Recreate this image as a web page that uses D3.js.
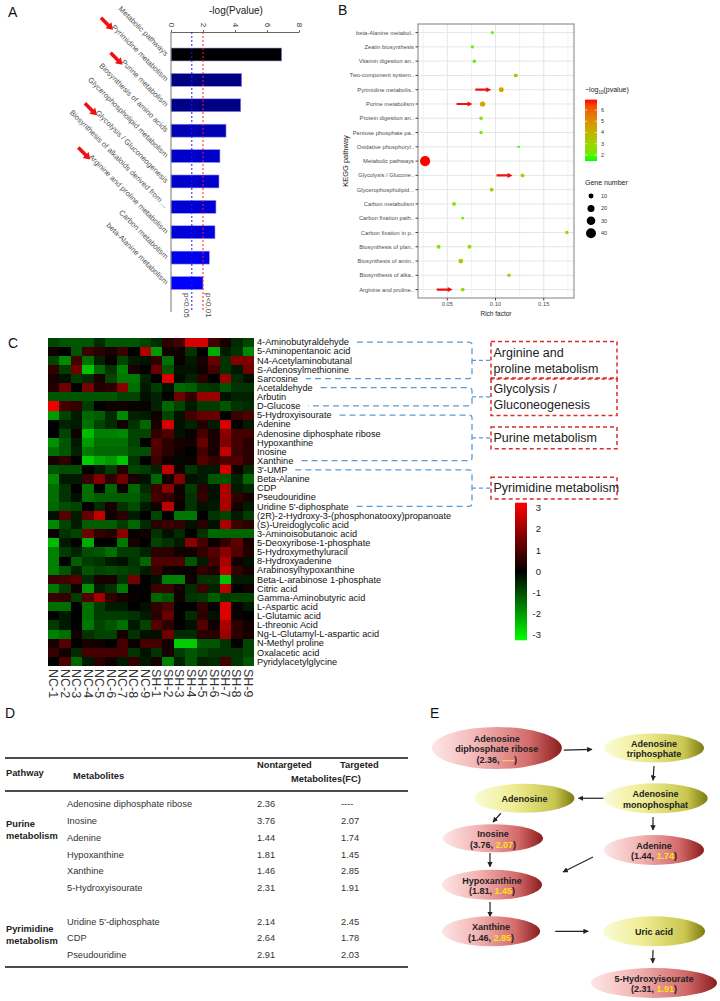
<!DOCTYPE html>
<html>
<head>
<meta charset="utf-8">
<script src="https://cdn.jsdelivr.net/npm/d3@7"></script>
<style>
  body { margin: 0; background: #fff; }
  svg { display: block; font-family: "Liberation Sans", Arial, sans-serif; }
</style>
</head>
<body>
<svg id="fig" width="720" height="1001"></svg>
<script>
// ---------- data : panel A ----------
const aPathways = ["Metabolic pathways", "Pyrimidine metabolism", "Purine metabolism",
  "Biosynthesis of amino acids", "Glycerophospholipid metabolism", "Glycolysis / Gluconeogenesis",
  "Biosynthesis of alkaloids derived from ...", "Arginine and proline metabolism",
  "Carbon metabolism", "beta-Alanine metabolism"];
const aLogP = [6.92, 4.42, 4.36, 3.44, 3.06, 3.0, 2.81, 2.75, 2.4, 2.0];
const aMarked = ["Pyrimidine metabolism", "Purine metabolism", "Glycolysis / Gluconeogenesis", "Arginine and proline metabolism"];
const aTicks = [0, 2, 4, 6, 8];
const aCutLabels = ["p<0.05", "p<0.01"];
const aCutValues = [1.301, 2];

// ---------- data : panel B ----------
const bPathways = ["beta-Alanine metabol..", "Zeatin biosynthesis", "Vitamin digestion an..",
  "Two-component system..", "Pyrimidine metabolis..", "Purine metabolism", "Protein digestion an..",
  "Pentose phosphate pa..", "Oxidative phosphoryl..", "Metabolic pathways", "Glycolysis / Glucone..",
  "Glycerophospholipid ..", "Carbon metabolism", "Carbon fixation path..", "Carbon fixation in p..",
  "Biosynthesis of plan..", "Biosynthesis of amin..", "Biosynthesis of alka..", "Arginine and proline.."];
const bPointPath = ["beta-Alanine metabol..", "Zeatin biosynthesis", "Vitamin digestion an..",
  "Two-component system..", "Pyrimidine metabolis..", "Purine metabolism", "Protein digestion an..",
  "Pentose phosphate pa..", "Oxidative phosphoryl..", "Metabolic pathways", "Glycolysis / Glucone..",
  "Glycerophospholipid ..", "Carbon metabolism", "Carbon fixation path..", "Carbon fixation in p..",
  "Biosynthesis of plan..", "Biosynthesis of plan..", "Biosynthesis of amin..", "Biosynthesis of alka..",
  "Arginine and proline.."];
const bRich  = [0.0967, 0.076, 0.078, 0.121, 0.106, 0.0866, 0.085, 0.085, 0.124, 0.027, 0.128,
  0.096, 0.057, 0.066, 0.174, 0.041, 0.073, 0.064, 0.114, 0.066];
const bLogP  = [2.0, 1.9, 1.95, 3.5, 4.42, 4.36, 2.4, 2.3, 1.46, 6.92, 3.0,
  3.06, 2.4, 2.0, 2.9, 2.2, 2.6, 3.44, 2.81, 2.75];
const bGenes = [4, 4, 5, 6, 10, 11, 5, 5, 2, 42, 6, 6, 6, 3, 5, 6, 6, 9, 5, 6];
const bMarked = ["Pyrimidine metabolis..", "Purine metabolism", "Glycolysis / Glucone..", "Arginine and proline.."];
const bTicks = [0.05, 0.10, 0.15];
const bColorTicks = [2, 3, 4, 5, 6];
const bSizeTicks = [10, 20, 30, 40];

// ---------- data : panel C ----------
const cSamples = ["NC-1","NC-2","NC-3","NC-4","NC-5","NC-6","NC-7","NC-8","NC-9",
  "SH-1","SH-2","SH-3","SH-4","SH-5","SH-6","SH-7","SH-8","SH-9"];
const cMetabolites = ["4-Aminobutyraldehyde", "5-Aminopentanoic acid", "N4-Acetylaminobutanal",
  "S-Adenosylmethionine", "Sarcosine", "Acetaldehyde", "Arbutin", "D-Glucose", "5-Hydroxyisourate",
  "Adenine", "Adenosine diphosphate ribose", "Hypoxanthine", "Inosine", "Xanthine", "3'-UMP",
  "Beta-Alanine", "CDP", "Pseudouridine", "Uridine 5'-diphosphate",
  "(2R)-2-Hydroxy-3-(phosphonatooxy)propanoate", "(S)-Ureidoglycolic acid", "3-Aminoisobutanoic acid",
  "5-Deoxyribose-1-phosphate", "5-Hydroxymethyluracil", "8-Hydroxyadenine", "Arabinosylhypoxanthine",
  "Beta-L-arabinose 1-phosphate", "Citric acid", "Gamma-Aminobutyric acid", "L-Aspartic acid",
  "L-Glutamic acid", "L-threonic Acid", "Ng-L-Glutamyl-L-aspartic acid", "N-Methyl proline",
  "Oxalacetic acid", "Pyridylacetylglycine"];
const cValues = [
  [-0.8,-1,-1,-1,-0.5,-1,-1,-1,-0.8,-0.5,0.5,0.8,2.5,2.5,0.8,0.3,-0.5,-0.8],
  [0.2,0,-1,0.7,0.5,0.3,0.7,0,2,-1.8,0.2,0.2,-0.6,0,-2,-0.3,-0.6,-1.6],
  [-0.8,-1.6,0.8,-1.3,-0.4,0.1,-0.8,-0.3,-0.2,0.6,-1.3,0.1,-0.3,0.3,1.2,-0.6,1.5,1.5],
  [0.6,-0.7,1.3,-2.3,-1.2,-0.6,-1.5,0.3,0,1.2,-1.0,-0.2,-0.2,0.2,0.8,-0.6,-0.3,1.3],
  [0.3,-0.2,-0.7,-0.5,0.3,-0.8,-1.4,-1.4,-0.4,0,2.6,-0.1,-0.4,0.5,0,1.8,-0.5,-0.2],
  [0.4,1.3,0,1.4,0.4,0.5,1.6,-1.3,-0.3,-0.7,-0.2,-1.2,-1.1,-0.7,-0.6,-1.0,-0.6,-0.6],
  [-1,-1,-1,-1,-1,-1,-0.8,-0.8,-0.2,-0.4,0,1.3,0.6,1.8,1.8,-0.2,-0.4,-0.4],
  [2.8,0.8,0.6,-0.7,0,0.2,0.2,0.1,0.1,-0.4,-1.2,-0.8,-0.3,-0.7,-0.7,-1.0,-0.6,-0.5],
  [-1.8,-0.8,-0.3,-1.2,-1.1,-0.5,-1.6,-0.4,-0.3,0.2,-0.8,-0.2,0.8,1.2,1.2,0,0.7,0.9],
  [0,-0.4,-0.3,-1.3,-0.8,-0.5,0.2,-0.6,-1.2,0.3,2.5,-0.2,-0.4,0.4,-0.3,2.5,0,-0.3],
  [0,-0.8,0.2,-2.2,-1.5,-1.5,-1.6,-0.8,-0.8,0.6,0.9,-0.2,0.1,0.8,0.3,1.6,0.8,0.8],
  [-1.7,-1.0,-0.3,-1.8,-1.3,-1.3,-1.3,-0.8,0,1.0,0.5,0.3,0.2,1.2,0.3,1.5,0.8,0.5],
  [-1.3,-1.0,-0.4,-1.4,-1.2,-1.2,-1.2,-0.9,-0.9,0.9,0.5,0.2,0,0.8,0.3,2.3,0.7,0.5],
  [0.3,0.6,0,-2.4,-2.0,-1.8,-2.3,-0.6,0,0.7,0.2,-0.1,0.1,1.0,0.6,0.9,0.9,0.5],
  [-1.0,-0.9,-0.9,0,-0.3,-0.7,0.4,-0.8,-0.7,-0.4,2.3,0.2,-0.6,-0.3,-0.3,2.5,0.2,-0.5],
  [-1.6,-0.3,-0.3,0.7,1.5,0.5,1.3,0.3,-0.2,-1.2,0.2,1.5,-0.2,-0.3,-1.0,-1.0,-0.4,-1.2],
  [-1.3,-0.6,0,-1.3,0,-1.2,0.1,-1.2,-0.5,0.7,1.6,0.2,-0.7,0.5,-0.2,2.0,-0.3,-0.5],
  [-1.3,-0.6,-0.2,-1.3,-1.1,-1.1,-1.1,-1.1,-0.7,0.8,0.6,0.2,-0.6,0.6,-0.2,2.0,0.6,0.3],
  [-1.2,-0.9,-0.8,0,-0.5,0.3,-0.6,-0.9,-0.3,0.2,2.2,0.1,-0.6,-0.2,-0.3,2.0,0.3,-0.3],
  [-0.2,1.0,-0.3,1.2,2.3,0.2,0.5,-0.3,0,-0.8,0,-1.4,-1.4,0,-0.6,-0.8,-0.3,-0.7],
  [-1.6,-0.8,-0.3,-1.1,-1.1,-1.1,-0.7,-1.2,-0.5,0.5,0.7,0.6,-0.2,0.5,-0.2,2.0,0.7,0.5],
  [0.1,-0.6,-0.8,1.3,0.6,0.4,1.6,0.1,0.2,-0.6,-0.2,-0.5,0,-0.6,-1.2,-1.2,-1.2,-1.2],
  [-2.2,-0.3,0,-2.0,0,0,-1.4,0.3,0,-0.8,-0.6,-0.3,1.6,0.8,0.1,0.6,1.1,0.3],
  [-1.5,-0.7,-0.4,-0.9,-1.0,-1.3,-0.7,-0.7,-0.4,0.5,0.5,0.2,0.2,0.6,1.0,1.6,1.0,0.4],
  [-1.5,0,-1.1,-0.7,-0.6,-0.3,-0.2,-0.6,-1.2,0.9,0.9,0.9,-1.0,-0.3,0.8,2.0,0.2,-0.2],
  [-1.5,-1.0,-0.4,-1.0,-0.8,-0.9,-0.8,-0.7,-0.3,0.7,0.2,0.1,0.1,0.6,0.4,2.3,0.6,0.3],
  [0.7,0.8,1.0,-0.5,0.3,0.3,-0.6,1.3,0,-0.2,-1.5,-1.5,0.2,-0.6,-0.6,-2.3,-0.3,-0.3],
  [-1.4,-0.7,0.2,-1.7,-0.3,-0.6,-1.4,0,0,0.7,0.7,0.2,-0.5,0.7,-0.4,2.2,0,0.2],
  [0.7,0.6,-0.7,1.0,1.9,0.6,0.3,0.1,0,-1.2,-1.0,0.2,-0.6,-0.7,-1.1,-0.7,-0.8,-0.8],
  [-1.3,-1.3,0,-1.3,-0.7,-0.3,-0.3,0,-0.2,0.6,0.9,0,0,0.6,0.1,2.6,0.1,-0.3],
  [0,-0.3,0,-1.3,-0.7,-0.7,-0.7,-0.6,-0.3,0.5,1.2,0,-0.5,0.5,-0.2,2.6,0.1,0],
  [-0.7,-0.3,0,-1.4,-0.8,-1.0,-1.3,-0.3,-0.8,1.0,0.5,0,-0.2,1.0,0.2,2.0,0.5,0.2],
  [-1.5,-1.3,0.2,-0.6,-0.8,-0.8,0.3,-0.6,-0.2,-0.2,1.3,-0.5,-0.5,0.5,0.5,1.8,0.5,0.3],
  [0.3,1.0,0,0.3,0.2,0,0.8,0.1,0.8,0.8,0.2,-2.4,-2.4,-1.0,-1.0,-0.6,0,-0.8],
  [0.6,0.2,-0.5,0.8,0.8,0.8,0.8,-0.6,-0.2,-0.6,0.3,-0.7,-1.0,-0.8,-0.6,-0.6,-0.6,-0.8],
  [0,0.9,-1.2,-0.3,0.5,0.2,-0.3,0.6,-0.3,0.3,-1.5,-0.4,-1.0,-0.4,-0.5,0.8,-0.6,-1.0]
];
const cScaleTicks = [3, 2, 1, 0, -1, -2, -3];
const cGroupNames = [["Arginine and", "proline metabolism"], ["Glycolysis /", "Gluconeogenesis"],
  ["Purine metabolism"], ["Pyrimidine metabolism"]];
const cGroupFirst = ["4-Aminobutyraldehyde", "Acetaldehyde", "5-Hydroxyisourate", "3'-UMP"];
const cGroupLast = ["Sarcosine", "D-Glucose", "Xanthine", "Uridine 5'-diphosphate"];

// ---------- data : panel D ----------
const tPathway = ["Purine metabolism", "Purine metabolism", "Purine metabolism", "Purine metabolism",
  "Purine metabolism", "Purine metabolism", "Pyrimidine metabolism", "Pyrimidine metabolism", "Pyrimidine metabolism"];
const tMetabolites = ["Adenosine diphosphate ribose", "Inosine", "Adenine", "Hypoxanthine", "Xanthine",
  "5-Hydroxyisourate", "Uridine 5'-diphosphate", "CDP", "Pseudouridine"];
const tNontargeted = ["2.36", "3.76", "1.44", "1.81", "1.46", "2.31", "2.14", "2.64", "2.91"];
const tTargeted = ["----", "2.07", "1.74", "1.45", "2.85", "1.91", "2.45", "1.78", "2.03"];

// ---------- data : panel E ----------
const eNodes = ["Adenosine diphosphate ribose", "Adenosine triphosphate", "Adenosine monophosphat", "Adenosine",
  "Inosine", "Adenine", "Hypoxanthine", "Xanthine", "Uric acid", "5-Hydroxyisourate"];
const eLabelLines = [["Adenosine", "diphosphate ribose"], ["Adenosine", "triphosphate"], ["Adenosine", "monophosphat"],
  ["Adenosine"], ["Inosine"], ["Adenine"], ["Hypoxanthine"], ["Xanthine"], ["Uric acid"], ["5-Hydroxyisourate"]];
const eEdges = [[0, 1], [1, 2], [2, 3], [2, 5], [3, 4], [4, 6], [5, 6], [6, 7], [7, 8], [8, 9]];

// ---------- layout (positions only) ----------
const eCol = [0.03, 1, 1.01, 0.2, 0.006, 1, 0, -0.006, 1, 1];
const eRow = [0, 0, 1.07, 1.07, 1.92, 2.17, 2.91, 3.9, 3.9, 5];
const eRx = [65, 50, 52, 50, 50, 50, 50, 49, 51, 63];
const eRy = [21, 14.5, 15, 14.5, 14, 15, 15, 15, 15, 15];
const eAnchors = [
  [[1.03, 0.1], [-1.24, 0.1]], [[0, 1.24], [-0.05, -1.2]], [[-1.0, 0], [1.08, 0]],
  [[-0.05, 1.25], [-0.02, -1.33]], [[-0.47, 1.03], [0, -1.16]], [[-0.06, 1.05], [-0.04, -1.2]],
  [[-1.22, 0.47], [1.42, -0.85]], [[-0.04, 1.15], [-0.02, -0.98]], [[1.31, 0], [-1.29, 0]],
  [[-0.02, 1.25], [-0.02, -1.33]]];

const svg = d3.select("#fig");
svg.append("rect").attr("width", 720).attr("height", 1001).attr("fill", "#fff");
const defs = svg.append("defs");

function blockArrow(g, x1, y1, x2, y2, shaft, headW, headL, color) {
  const len = Math.hypot(x2 - x1, y2 - y1);
  const ux = (x2 - x1) / len, uy = (y2 - y1) / len, nx = -uy, ny = ux;
  const bx = x2 - ux * headL, by = y2 - uy * headL;
  const pts = [
    [x1 + nx * shaft / 2, y1 + ny * shaft / 2], [bx + nx * shaft / 2, by + ny * shaft / 2],
    [bx + nx * headW / 2, by + ny * headW / 2], [x2, y2],
    [bx - nx * headW / 2, by - ny * headW / 2], [bx - nx * shaft / 2, by - ny * shaft / 2],
    [x1 - nx * shaft / 2, y1 - ny * shaft / 2]];
  g.append("path").attr("d", d3.line()(pts) + "Z").attr("fill", color);
}

// panel letters
const letters = [["A", 8, 12], ["B", 338, 10], ["C", 8, 343], ["D", 5, 713], ["E", 430, 713]];
svg.selectAll("text.letter").data(letters).join("text").attr("class", "letter")
  .attr("x", d => d[1]).attr("y", d => d[2]).attr("dy", "0.35em")
  .attr("font-size", 14).attr("fill", "#111").text(d => d[0]);

// =============== Panel A ===============
const gA = svg.append("g");
const aX = d3.scaleLinear().domain([0, 8]).range([171, 299]);
const aY = d3.scaleBand().domain(aPathways).range([41.8, 295.7]).paddingInner(0.49).paddingOuter(0.245);
const aColor = d3.scaleLinear().domain([d3.min(aLogP), d3.max(aLogP)]).range(["#0000ff", "#000000"]);

gA.append("text").attr("x", 236).attr("y", 10).attr("dy", "0.35em").attr("text-anchor", "middle")
  .attr("font-size", 10).attr("fill", "#222").text("-log(Pvalue)");

gA.append("g").attr("transform", "translate(0,32)")
  .call(d3.axisTop(aX).tickValues(aTicks).tickFormat(d3.format("d")).tickSize(2).tickSizeOuter(0))
  .call(g => g.select(".domain").attr("stroke", "#666"))
  .call(g => g.selectAll(".tick line").attr("stroke", "#666"))
  .call(g => g.selectAll(".tick text").attr("x", 0).attr("y", 0).attr("dy", "0.35em")
    .attr("text-anchor", "middle").attr("transform", "translate(0,-7) rotate(90)")
    .attr("font-size", 8).attr("fill", "#333").attr("font-family", "Liberation Sans, Arial, sans-serif"));

gA.selectAll("rect.bar").data(aPathways).join("rect").attr("class", "bar")
  .attr("x", aX(0)).attr("y", d => aY(d))
  .attr("width", (d, i) => aX(aLogP[i]) - aX(0)).attr("height", aY.bandwidth())
  .attr("fill", (d, i) => aColor(aLogP[i]))
  .attr("stroke", "#9a9af0").attr("stroke-width", 0.6);

gA.append("line").attr("x1", aX(0)).attr("x2", aX(0)).attr("y1", 32).attr("y2", 312).attr("stroke", "#777");

const aCutColors = ["#1a1aff", "#ff2020"];
aCutValues.forEach((v, i) => {
  gA.append("line").attr("x1", aX(v)).attr("x2", aX(v)).attr("y1", 32).attr("y2", 312)
    .attr("stroke", aCutColors[i]).attr("stroke-width", 1).attr("stroke-dasharray", "2,2");
  gA.append("text").attr("x", 0).attr("y", 0).attr("dy", "0.35em")
    .attr("transform", `translate(${aX(v) + (i === 0 ? -5 : 6)},293) rotate(90)`)
    .attr("font-size", 8).attr("fill", "#444").text(aCutLabels[i]);
});

const c45 = Math.SQRT1_2;
gA.selectAll("text.alab").data(aPathways).join("text").attr("class", "alab")
  .attr("x", 0).attr("y", 0).attr("dy", "0.35em").attr("text-anchor", "end")
  .attr("transform", d => `translate(167,${aY(d) + aY.bandwidth() / 2}) rotate(45)`)
  .attr("font-size", 7.6).attr("fill", "#555").text(d => d)
  .each(function (d) {
    if (!aMarked.includes(d)) return;
    const L = this.getComputedTextLength();
    const sx = 167 - L * c45, sy = aY(d) + aY.bandwidth() / 2 - L * c45;
    const tx = sx, ty = sy + 4;
    blockArrow(gA, tx - 17 * c45, ty - 17 * c45, tx, ty, 3.6, 8.5, 6.5, "#ee1111");
  });

// =============== Panel B ===============
const gB = svg.append("g");
const bExt = d3.extent(bRich), bPad = (bExt[1] - bExt[0]) * 0.05;
const bX = d3.scaleLinear().domain([bExt[0] - bPad, bExt[1] + bPad]).range([418, 574]);
const bY = d3.scalePoint().domain(bPathways).range([32.6, 289.6]);
const bColor = d3.scaleLinear().domain(d3.extent(bLogP)).range(["#00ff00", "#ff0000"]).interpolate(d3.interpolateLab);
const bSize = d3.scaleSqrt().domain([0, 42]).range([0, 5.1]);
const bTop = 24, bBot = 298;

const bMinor = d3.range(0.025, 0.2, 0.05).filter(v => v > bX.domain()[0] && v < bX.domain()[1]);
gB.selectAll("line.minor").data(bMinor).join("line")
  .attr("x1", d => bX(d)).attr("x2", d => bX(d)).attr("y1", bTop).attr("y2", bBot).attr("stroke", "#f2f2f2");
gB.selectAll("line.major").data(bTicks).join("line")
  .attr("x1", d => bX(d)).attr("x2", d => bX(d)).attr("y1", bTop).attr("y2", bBot).attr("stroke", "#e6e6e6");
gB.selectAll("line.hgrid").data(bPathways).join("line")
  .attr("x1", 418).attr("x2", 574).attr("y1", d => bY(d)).attr("y2", d => bY(d)).attr("stroke", "#e6e6e6");
gB.append("rect").attr("x", 418).attr("y", bTop).attr("width", 156).attr("height", bBot - bTop)
  .attr("fill", "none").attr("stroke", "#808080").attr("stroke-width", 1);

gB.selectAll("line.yt").data(bPathways).join("line")
  .attr("x1", 415.5).attr("x2", 418).attr("y1", d => bY(d)).attr("y2", d => bY(d)).attr("stroke", "#444");
gB.selectAll("text.yl").data(bPathways).join("text")
  .attr("x", 414).attr("y", d => bY(d)).attr("dy", "0.35em").attr("text-anchor", "end")
  .attr("font-size", 5.8).attr("fill", "#4d4d4d").text(d => d);
gB.selectAll("line.xt").data(bTicks).join("line")
  .attr("x1", d => bX(d)).attr("x2", d => bX(d)).attr("y1", bBot).attr("y2", bBot + 2.5).attr("stroke", "#444");
gB.selectAll("text.xl").data(bTicks).join("text")
  .attr("x", d => bX(d)).attr("y", 304).attr("dy", "0.35em").attr("text-anchor", "middle")
  .attr("font-size", 5.8).attr("fill", "#4d4d4d").text(d3.format(".2f"));
gB.append("text").attr("x", 496).attr("y", 314).attr("dy", "0.35em").attr("text-anchor", "middle")
  .attr("font-size", 6.5).attr("fill", "#222").text("Rich factor");
gB.append("text").attr("transform", `translate(345,${(bTop + bBot) / 2}) rotate(-90)`)
  .attr("dy", "0.35em").attr("text-anchor", "middle").attr("font-size", 7.5).attr("fill", "#222").text("KEGG pathway");

gB.selectAll("circle.pt").data(bPointPath).join("circle")
  .attr("cx", (d, i) => bX(bRich[i])).attr("cy", d => bY(d))
  .attr("r", (d, i) => bSize(bGenes[i])).attr("fill", (d, i) => bColor(bLogP[i]));

bMarked.forEach(name => {
  const i = bPointPath.indexOf(name);
  const px = bX(bRich[i]), py = bY(name);
  blockArrow(gB, px - 26, py, px - 10, py, 2.2, 5, 5, "#ee1111");
});

// legend: colour
const bLegY = d3.scaleLinear().domain([2, 6]).range([155, 110]);
const bLegGrad = defs.append("linearGradient").attr("id", "bgrad").attr("x1", 0).attr("x2", 0).attr("y1", 1).attr("y2", 0);
d3.range(0, 1.0001, 0.1).forEach(t => {
  const v = bColor.domain()[0] + t * (bColor.domain()[1] - bColor.domain()[0]);
  bLegGrad.append("stop").attr("offset", t).attr("stop-color", bColor(v));
});
const bLegTop = bLegY(bColor.domain()[1]), bLegBot = bLegY(bColor.domain()[0]);
gB.append("text").attr("x", 585).attr("y", 92).attr("font-size", 7).attr("fill", "#222")
  .call(t => {
    t.append("tspan").text("\u2212log");
    t.append("tspan").attr("font-size", 4.5).attr("dy", 1.5).text("10");
    t.append("tspan").attr("dy", -1.5).text("(pvalue)");
  });
gB.append("rect").attr("x", 585).attr("y", bLegTop).attr("width", 12).attr("height", bLegBot - bLegTop).attr("fill", "url(#bgrad)");
gB.selectAll("line.ct").data(bColorTicks).join("line")
  .attr("x1", 585).attr("x2", 587.5).attr("y1", d => bLegY(d)).attr("y2", d => bLegY(d)).attr("stroke", "#fff").attr("stroke-width", 0.6);
gB.selectAll("line.ct2").data(bColorTicks).join("line")
  .attr("x1", 594.5).attr("x2", 597).attr("y1", d => bLegY(d)).attr("y2", d => bLegY(d)).attr("stroke", "#fff").attr("stroke-width", 0.6);
gB.selectAll("text.cl").data(bColorTicks).join("text")
  .attr("x", 601).attr("y", d => bLegY(d)).attr("dy", "0.35em").attr("font-size", 5.5).attr("fill", "#333").text(d => d);
// legend: size
gB.append("text").attr("x", 585).attr("y", 185).attr("font-size", 7).attr("fill", "#222").text("Gene number");
gB.selectAll("circle.sz").data(bSizeTicks).join("circle")
  .attr("cx", 591).attr("cy", (d, i) => 196 + i * 12.4).attr("r", d => bSize(d)).attr("fill", "#000");
gB.selectAll("text.sl").data(bSizeTicks).join("text")
  .attr("x", 601).attr("y", (d, i) => 196 + i * 12.4).attr("dy", "0.35em").attr("font-size", 5.5).attr("fill", "#333").text(d => d);

// =============== Panel C ===============
const gC = svg.append("g");
const cX = d3.scaleBand().domain(cSamples).range([48, 254]);
const cY = d3.scaleBand().domain(cMetabolites).range([337.5, 666]);
const cColor = d3.scaleLinear().domain([-3, 0, 3]).range(["#00ff00", "#000000", "#ff0000"]).clamp(true);

cValues.forEach((row, i) => {
  gC.selectAll(null).data(row).join("rect")
    .attr("x", (d, j) => cX(cSamples[j])).attr("y", cY(cMetabolites[i]))
    .attr("width", cX.bandwidth() + 0.4).attr("height", cY.bandwidth() + 0.4)
    .attr("fill", d => cColor(d)).attr("shape-rendering", "crispEdges");
});

const cLabX = 257;
const cLabels = gC.selectAll("text.rl").data(cMetabolites).join("text")
  .attr("x", cLabX).attr("y", d => cY(d) + cY.bandwidth() / 2).attr("dy", "0.35em")
  .attr("font-size", 9.2).attr("fill", "#111").text(d => d);
const cLen = {};
cLabels.each(function (d) { cLen[d] = this.getComputedTextLength(); });

gC.selectAll("text.cl").data(cSamples).join("text")
  .attr("transform", d => `translate(${cX(d) + cX.bandwidth() / 2},669) rotate(90)`)
  .attr("dy", "0.35em").attr("font-size", 12.5).attr("fill", "#333").text(d => d);

// colour key
const cLegY = d3.scaleLinear().domain([3, -3]).range([508, 635]);
const cGrad = defs.append("linearGradient").attr("id", "cgrad").attr("x1", 0).attr("x2", 0).attr("y1", 0).attr("y2", 1);
[3, 0, -3].forEach(v => cGrad.append("stop").attr("offset", (3 - v) / 6).attr("stop-color", cColor(v)));
gC.append("rect").attr("x", 515).attr("y", cLegY(3.25)).attr("width", 12)
  .attr("height", cLegY(-3.25) - cLegY(3.25)).attr("fill", "url(#cgrad)");
gC.selectAll("text.kl").data(cScaleTicks).join("text")
  .attr("x", 541).attr("y", d => cLegY(d)).attr("dy", "0.35em").attr("text-anchor", "end")
  .attr("font-size", 9.5).attr("fill", "#222").text(d => d);

// brackets and pathway boxes
const brX = 472, boxX = 491, boxW = 126;
cGroupNames.forEach((lines, k) => {
  const y1 = cY(cGroupFirst[k]) + cY.bandwidth() / 2;
  const y2 = cY(cGroupLast[k]) + cY.bandwidth() / 2;
  const xs1 = cLabX + cLen[cGroupFirst[k]] + 8, xs2 = cLabX + cLen[cGroupLast[k]] + 8;
  const ym = (y1 + y2) / 2, r = 3;
  gC.append("path")
    .attr("d", `M${xs1},${y1}H${brX - r}Q${brX},${y1} ${brX},${y1 + r}V${y2 - r}Q${brX},${y2} ${brX - r},${y2}H${xs2}`)
    .attr("fill", "none").attr("stroke", "#5b9bd5").attr("stroke-width", 1.3).attr("stroke-dasharray", "6,4");
  gC.append("path").attr("d", `M${brX},${ym}H${boxX}`)
    .attr("fill", "none").attr("stroke", "#5b9bd5").attr("stroke-width", 1.3).attr("stroke-dasharray", "4,3");
  const h = 6 + lines.length * 15.75;
  gC.append("rect").attr("x", boxX).attr("y", ym - h / 2).attr("width", boxW).attr("height", h)
    .attr("fill", "none").attr("stroke", "#dd2b2b").attr("stroke-width", 1.5).attr("stroke-dasharray", "4,3");
  lines.forEach((t, li) => {
    gC.append("text").attr("x", boxX + 2.5).attr("y", ym + (li - (lines.length - 1) / 2) * 16)
      .attr("dy", "0.35em").attr("font-size", 12.5).attr("fill", "#222").text(t);
  });
});

// =============== Panel D ===============
const gD = svg.append("g").attr("font-size", 9.3);
const tLeft = 5, tRight = 408;
[758, 791, 967].forEach(y => gD.append("line").attr("x1", tLeft).attr("x2", tRight)
  .attr("y1", y).attr("y2", y).attr("stroke", "#111").attr("stroke-width", 1.5));
const tHead = [["Pathway", 6, 773], ["Metabolites", 73, 776], ["Nontargeted", 257, 765],
  ["Targeted", 340, 765], ["Metabolites(FC)", 291, 779]];
gD.selectAll("text.th").data(tHead).join("text")
  .attr("x", d => d[1]).attr("y", d => d[2]).attr("dy", "0.35em")
  .attr("font-weight", "bold").attr("fill", "#222").text(d => d[0]);

const tGroups = Array.from(new Set(tPathway));
const tIndex = tPathway.map((p, i) => i + tGroups.indexOf(p));
const tRowY = d3.scaleLinear().domain([0, 9]).range([804, 955]);
const tCols = [[tMetabolites, 67], [tNontargeted, 257], [tTargeted, 341]];
tCols.forEach(([arr, x]) => {
  gD.selectAll(null).data(arr).join("text")
    .attr("x", x).attr("y", (d, i) => tRowY(tIndex[i])).attr("dy", "0.35em")
    .attr("fill", "#333").text(d => d);
});
tGroups.forEach(p => {
  const idx = tIndex.filter((d, i) => tPathway[i] === p);
  const center = (idx[0] + (idx[0] + idx[idx.length - 1]) / 2) / 2 + 0.3;
  const words = p.split(" ");
  words.forEach((w, wi) => {
    gD.append("text").attr("x", 6).attr("y", tRowY(center) + (wi - 0.5) * 12).attr("dy", "0.35em")
      .attr("font-weight", "bold").attr("fill", "#222").text(w);
  });
});

// =============== Panel E ===============
const gE = svg.append("g").attr("font-size", 9).attr("font-weight", "bold");
const eX = d3.scaleLinear().domain([0, 1]).range([492, 654]);
const eY = d3.scaleLinear().domain([0, 5]).range([748, 983]);
const pink = defs.append("linearGradient").attr("id", "pinkG");
[[0, "#fde6e6"], [0.35, "#f3b5b5"], [0.75, "#d46a6a"], [1, "#8a1c1c"]]
  .forEach(s => pink.append("stop").attr("offset", s[0]).attr("stop-color", s[1]));
const yel = defs.append("linearGradient").attr("id", "yelG");
[[0, "#fbfbd6"], [0.4, "#eeec92"], [0.8, "#c9c650"], [1, "#7d7a12"]]
  .forEach(s => yel.append("stop").attr("offset", s[0]).attr("stop-color", s[1]));
defs.append("marker").attr("id", "ehead").attr("viewBox", "0 0 10 10").attr("refX", 9).attr("refY", 5)
  .attr("markerWidth", 4.5).attr("markerHeight", 4.5).attr("orient", "auto-start-reverse")
  .append("path").attr("d", "M0,0L10,5L0,10Z").attr("fill", "#222");

const eCx = i => eX(eCol[i]), eCy = i => eY(eRow[i]);
eEdges.forEach(([a, b], k) => {
  const [sa, sb] = eAnchors[k];
  gE.append("line")
    .attr("x1", eCx(a) + sa[0] * eRx[a]).attr("y1", eCy(a) + sa[1] * eRy[a])
    .attr("x2", eCx(b) + sb[0] * eRx[b]).attr("y2", eCy(b) + sb[1] * eRy[b])
    .attr("stroke", "#222").attr("stroke-width", 1.2).attr("marker-end", "url(#ehead)");
});
eNodes.forEach((name, i) => {
  const ti = tMetabolites.indexOf(name);
  gE.append("ellipse").attr("cx", eCx(i)).attr("cy", eCy(i)).attr("rx", eRx[i]).attr("ry", eRy[i])
    .attr("fill", ti >= 0 ? "url(#pinkG)" : "url(#yelG)");
  const lines = eLabelLines[i].length + (ti >= 0 ? 1 : 0);
  eLabelLines[i].forEach((t, li) => {
    gE.append("text").attr("x", eCx(i)).attr("y", eCy(i) - (lines - 1) * 5.3 + 1 + li * 10.5)
      .attr("dy", "0.35em").attr("text-anchor", "middle").attr("fill", "#222").text(t);
  });
  if (ti >= 0) {
    const t = gE.append("text").attr("x", eCx(i)).attr("y", eCy(i) - (lines - 1) * 5.3 + 1 + (lines - 1) * 10.5)
      .attr("dy", "0.35em").attr("text-anchor", "middle").attr("fill", "#222");
    t.append("tspan").text(`(${tNontargeted[ti]}, `);
    t.append("tspan").attr("fill", "#ffe11a").text(tTargeted[ti]);
    t.append("tspan").text(")");
  }
});
</script>
</body>
</html>
